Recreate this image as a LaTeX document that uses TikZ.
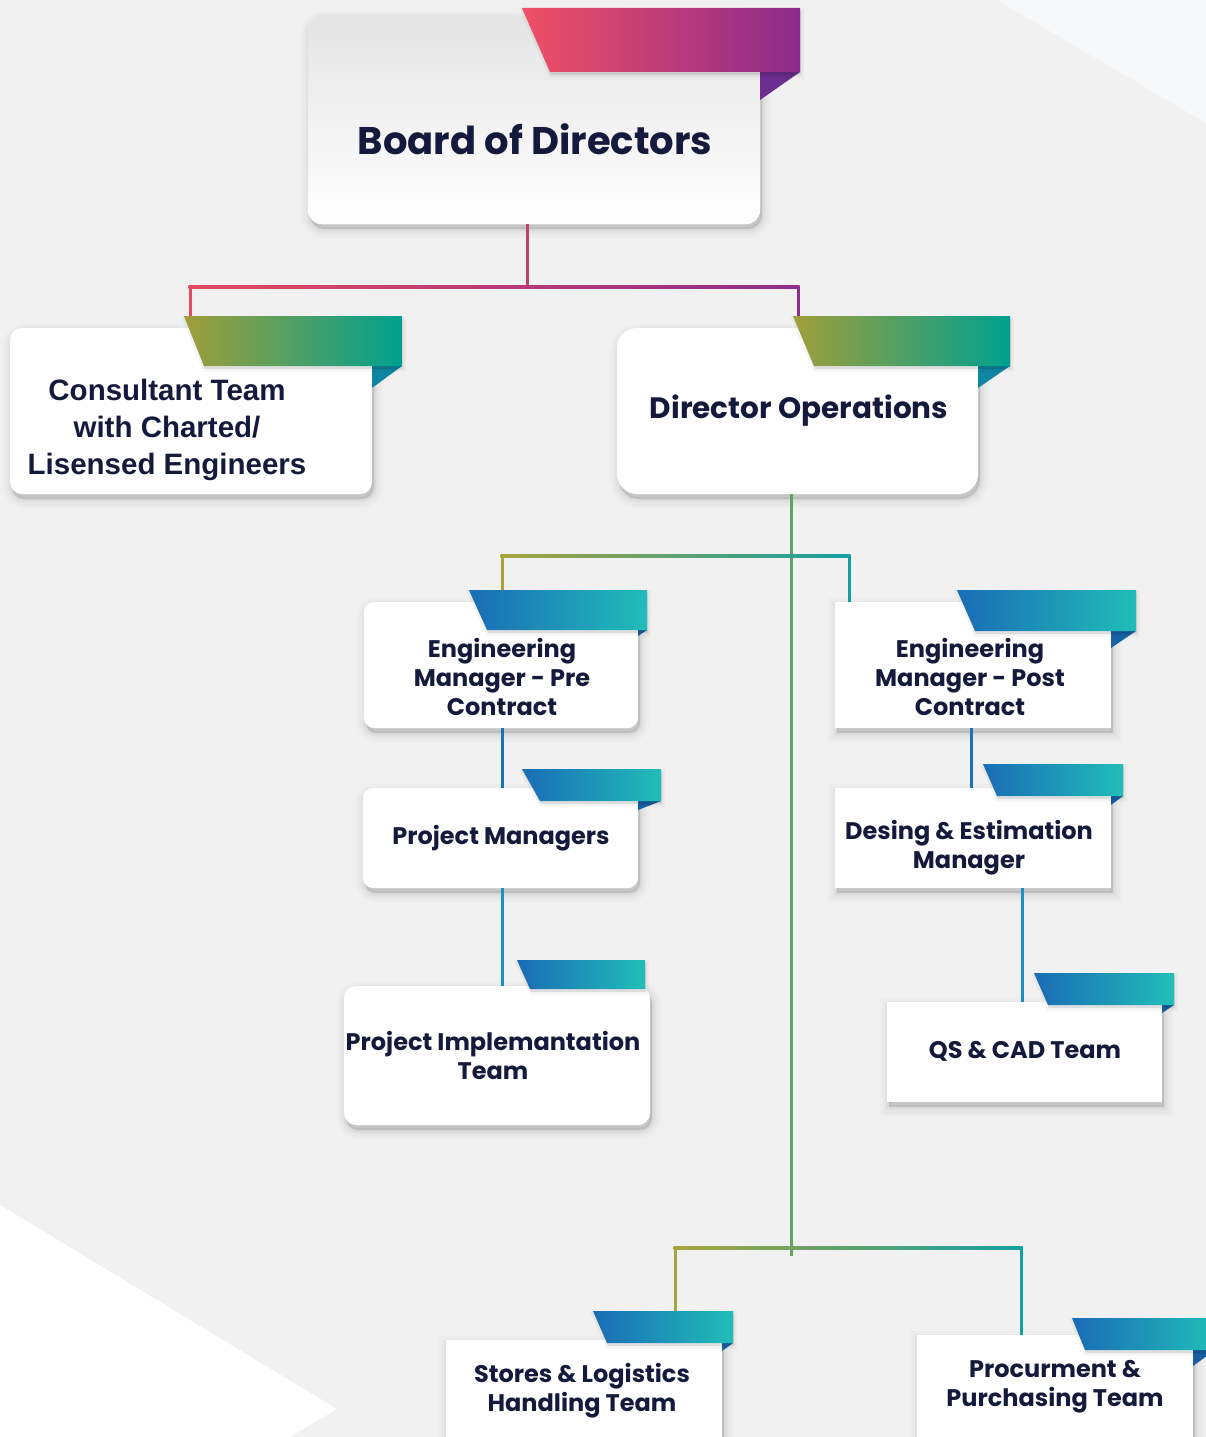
\documentclass[tikz,border=0pt]{standalone}
\usepackage{fontspec}
\newfontfamily\pop{Poppins}
\newfontfamily\lib{Liberation Sans}
\usetikzlibrary{calc,shadows}
\definecolor{bg}{HTML}{F1F1F1}
\definecolor{bgl}{HTML}{F7F8F9}
\definecolor{navy}{HTML}{141A3C}
\definecolor{rA}{HTML}{EF5064}
\definecolor{rB}{HTML}{8C2A8B}
\definecolor{rF}{HTML}{6B2D8F}
\definecolor{gA}{HTML}{A09E3A}
\definecolor{gB}{HTML}{00A08F}
\definecolor{gF}{HTML}{0F86A1}
\definecolor{bA}{HTML}{1A6CB6}
\definecolor{bB}{HTML}{21BDB8}
\definecolor{bF}{HTML}{1761A6}
\definecolor{lR}{HTML}{E44A60}
\definecolor{lM}{HTML}{C0416C}
\definecolor{lP}{HTML}{8F2D8B}
\definecolor{lO}{HTML}{A7A43D}
\definecolor{lG}{HTML}{66A062}
\definecolor{lT}{HTML}{14A0A2}
\definecolor{lB1}{HTML}{1B73B3}
\definecolor{lB2}{HTML}{1D8FC0}
\newcommand\ribbon[8]{%
  \fill[#8F] (#6,#5) -- (#3,#5) -- (#6,#7) -- cycle;
  \shade[left color=#8A, right color=#8B, rshd] (#1,#4) -- (#3,#4) -- (#3,#5) -- (#2,#5) -- cycle;}
\tikzset{
  cn/.style={line width=3pt},
  shl/.style={general shadow={shadow xshift=2pt,shadow yshift=-5pt,fill=black,fill opacity=#1,draw=black,draw opacity=#1}},
  shd/.style={
    general shadow={shadow xshift=2pt,shadow yshift=-5pt,fill=black,fill opacity=.015,draw=black,draw opacity=.015,line width=18pt},
    general shadow={shadow xshift=2pt,shadow yshift=-5pt,fill=black,fill opacity=.02,draw=black,draw opacity=.02,line width=13pt},
    general shadow={shadow xshift=2pt,shadow yshift=-5pt,fill=black,fill opacity=.025,draw=black,draw opacity=.025,line width=8pt},
    general shadow={shadow xshift=2pt,shadow yshift=-5pt,fill=black,fill opacity=.03,draw=black,draw opacity=.03,line width=4pt},
    general shadow={shadow xshift=2pt,shadow yshift=-5pt,fill=black,fill opacity=.03}},
  rshd/.style={
    general shadow={shadow xshift=1pt,shadow yshift=-3pt,fill=black,fill opacity=.04,draw=black,draw opacity=.04,line width=5pt},
    general shadow={shadow xshift=1pt,shadow yshift=-3pt,fill=black,fill opacity=.06}},
  box/.style={fill=white, inner sep=0pt, outer sep=0pt, shd},
  txt/.style={text=navy, align=center, inner sep=0pt},
  ptx/.style={txt, font=\pop\bfseries\fontsize{24}{29}\selectfont}
}
\begin{document}
\begin{tikzpicture}[x=1pt,y=-1pt]
\useasboundingbox (0,0) rectangle (1206,1437);
% background
\fill[bg] (0,0) rectangle (1206,1437);
\fill[bgl] (997,0) -- (1206,0) -- (1206,123) -- cycle;
\fill[white] (0,1205) -- (337,1409) -- (290,1437) -- (0,1437) -- cycle;

% boxes
\node[box, rounded corners=14pt, minimum width=452pt, minimum height=209pt,
      top color={rgb,255:red,228;green,228;blue,228}, bottom color=white] (board) at (534,119.5) {};
\node[box, rounded corners=12pt, minimum width=362pt, minimum height=166pt] (cons) at (191,411) {};
\node[box, rounded corners=20pt, minimum width=361pt, minimum height=166pt] (dir) at (797.5,411) {};
\node[box, rounded corners=10pt, minimum width=274pt, minimum height=126pt] (empre) at (501,665) {};
\node[box, rounded corners=10pt, minimum width=275pt, minimum height=100pt] (pm) at (500.5,838) {};
\node[box, rounded corners=12pt, minimum width=306pt, minimum height=139pt] (pit) at (497,1055.5) {};
\node[box, minimum width=276pt, minimum height=126pt] (empost) at (973,665) {};
\node[box, minimum width=276pt, minimum height=100pt] (de) at (973,838) {};
\node[box, minimum width=275pt, minimum height=100pt] (qs) at (1024.5,1052) {};
\node[box, minimum width=276pt, minimum height=130pt] (stores) at (584,1405) {};
\node[box, minimum width=276pt, minimum height=130pt] (proc) at (1055,1400) {};

% ribbons: xtl xbl xr yt yb foldx foldy colour
\ribbon{522}{550}{800}{8}{72}{760}{100}{r}
\ribbon{184}{204}{402}{316}{366}{372}{388}{g}
\ribbon{793}{814}{1010}{316}{366}{978}{388}{g}
\ribbon{469}{487}{647}{590}{630}{638}{636}{b}
\ribbon{522}{540}{661}{769}{801}{638}{810}{b}
\ribbon{517}{530}{645}{960}{989}{645}{989}{b}
\ribbon{957}{975}{1136}{590}{631}{1111}{648}{b}
\ribbon{983}{997}{1123}{764}{796}{1111}{805}{b}
\ribbon{1034}{1048}{1174}{973}{1005}{1162}{1013}{b}
\ribbon{593}{607}{733}{1311}{1343}{722}{1351}{b}
\ribbon{1072}{1085}{1215}{1318}{1350}{1193}{1366}{b}

% texts
\node[txt, font=\pop\bfseries\fontsize{38.5}{46}\selectfont] (board-t) at (535,139) {Board of Directors};
\node[txt, font=\lib\bfseries\fontsize{29.5}{37}\selectfont] (cons-t) at (167,430) {Consultant Team\\with Charted/\\Lisensed Engineers};
\node[txt, font=\pop\bfseries\fontsize{29.5}{36}\selectfont] (dir-t) at (799,411) {Director Operations};
\node[ptx] (empre-t) at (502,677) {Engineering\\Manager - Pre\\Contract};
\node[ptx] (pm-t) at (501,838) {Project Managers};
\node[ptx] (pit-t) at (493,1055) {Project Implemantation\\Team};
\node[ptx] (empost-t) at (970,677) {Engineering\\Manager - Post\\Contract};
\node[ptx] (de-t) at (969,848) {Desing \& Estimation\\Manager};
\node[ptx] (qs-t) at (1025,1051) {QS \& CAD Team};
\node[ptx] (stores-t) at (582,1390.5) {Stores \& Logistics\\Handling Team};
\node[ptx] (proc-t) at (1055,1387) {Procurment \&\\Purchasing Team};

% connectors: board level
\coordinate (bj) at (527,287);
\coordinate (cons-in) at (190,316);
\coordinate (dir-in) at (798,316);
\draw[cn, lM] (board.south -| bj) -- (bj);
\shade[left color=lR, right color=lP] ($(cons-in |- bj)+(-1.5,-1.5)$) rectangle ($(dir-in |- bj)+(1.5,1.5)$);
\draw[cn, lR] (cons-in |- bj) -- (cons-in);
\draw[cn, lP] (dir-in |- bj) -- (dir-in);

% director operations level
\coordinate (dj) at (791,556);
\coordinate (dend) at (791,1256);
\coordinate (empre-in) at (502,590);
\coordinate (empost-in) at (849,602);
\draw[cn, lG] (dir.south -| dj) -- (dend);
\shade[left color=lO, right color=lT] ($(empre-in |- dj)+(-1.5,-1.5)$) rectangle ($(empost-in |- dj)+(1.5,1.5)$);
\draw[cn, lO] (empre-in |- dj) -- (empre-in);
\draw[cn, lT] (empost-in |- dj) -- (empost-in);

% bottom level
\coordinate (bj2) at (791,1248);
\coordinate (stores-in) at (675,1311);
\coordinate (proc-in) at (1021,1335);
\shade[left color=lO, right color=lT] ($(stores-in |- bj2)+(-1.5,-1.5)$) rectangle ($(proc-in |- bj2)+(1.5,1.5)$);
\draw[cn, lO] (stores-in |- bj2) -- (stores-in);
\draw[cn, lT] (proc-in |- bj2) -- (proc-in);

% chains
\draw[cn, lB1] (empre.south -| empre-in) -- (pm.north -| empre-in);
\draw[cn, lB2] (pm.south -| empre-in) -- (pit.north -| empre-in);
\coordinate (ep) at (971,0);
\draw[cn, lB1] (empost.south -| ep) -- (de.north -| ep);
\coordinate (dq) at (1022,0);
\draw[cn, lB2] (de.south -| dq) -- (qs.north -| dq);
\end{tikzpicture}
\end{document}
